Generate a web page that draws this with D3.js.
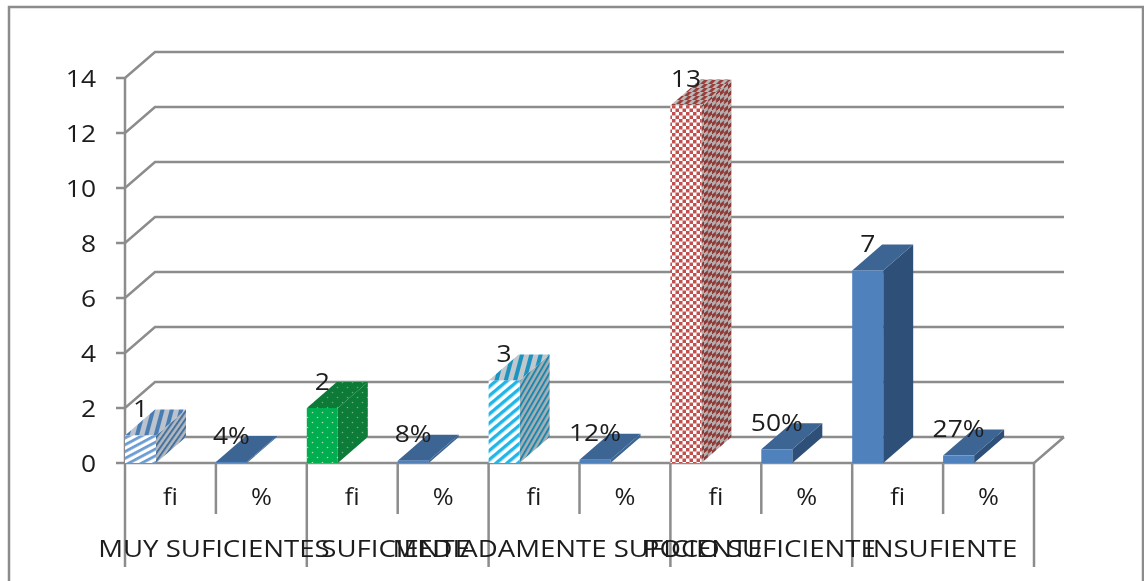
<!DOCTYPE html>
<html>
<head>
<meta charset="utf-8">
<script src="https://cdn.jsdelivr.net/npm/d3@7"></script>
<style>
  html, body { margin: 0; padding: 0; background: #fff; overflow: hidden; }
  text { font-family: "Open Sans", sans-serif; fill: #1c1c1c; }
</style>
</head>
<body>
<script>
const groups = ["MUY SUFICIENTES", "SUFICIENTE", "MEDIADAMENTE SUFICIENTE", "POCO SUFICIENTE", "INSUFIENTE"];
const subLabels = ["fi", "%"];
const fiValues = [1, 2, 3, 13, 7];
const pctValues = [0.04, 0.08, 0.12, 0.5, 0.27];
const pctLabels = ["4%", "8%", "12%", "50%", "27%"];
const yTicks = [0, 2, 4, 6, 8, 10, 12, 14];

const w = 1144;
const h = 581;
const left = 125;
const right = 1034;
const base = 463;
const top14 = 78;
const depthX = 30;
const depthY = 26;
const barW = 31;
const grey = "#8c8c8c";

const bars = [];
groups.forEach((g, i) => {
  bars.push({ key: i * 2, value: fiValues[i], label: String(fiValues[i]), style: ["hatchBlue", "dots", "hatchCyan", "check", "plain"][i] });
  bars.push({ key: i * 2 + 1, value: pctValues[i], label: pctLabels[i], style: "plain" });
});

const xScale = d3.scaleBand().domain(d3.range(10)).range([left, right]);
const groupScale = d3.scaleBand().domain(d3.range(5)).range([left, right]);
const yScale = d3.scaleLinear().domain([0, 14]).range([base, top14]);

const svg = d3.select("body").append("svg")
  .attr("width", w)
  .attr("height", h)
  .style("display", "block");

const defs = svg.append("defs");

// slight softening, the reference is an upscaled bitmap
defs.append("filter").attr("id", "soft")
  .append("feGaussianBlur").attr("stdDeviation", 0.6);

function stripes(id, bg, fg, size, sw, angle) {
  const p = defs.append("pattern")
    .attr("id", id)
    .attr("patternUnits", "userSpaceOnUse")
    .attr("width", size)
    .attr("height", size)
    .attr("patternTransform", `rotate(${angle})`);
  p.append("rect").attr("width", size).attr("height", size).attr("fill", bg);
  p.append("rect").attr("width", sw).attr("height", size).attr("fill", fg);
}

stripes("hatchBlue-front", "#fff", "#6a9bd3", 6, 2.8, 62);
stripes("hatchBlue-top", "#bcc3cc", "#4a7eb5", 9, 4, 15);
stripes("hatchBlue-side", "#b4b9bf", "#44719f", 4.5, 2, 35);
stripes("hatchCyan-front", "#fff", "#22b5e8", 7, 3.4, 50);
stripes("hatchCyan-top", "#c0c8cc", "#1d93c0", 9, 4, 15);
stripes("hatchCyan-side", "#a9b0b4", "#1d87ae", 4.5, 2, 30);

function dots(id, bg, fg) {
  const p = defs.append("pattern")
    .attr("id", id)
    .attr("patternUnits", "userSpaceOnUse")
    .attr("width", 10)
    .attr("height", 10);
  p.append("rect").attr("width", 10).attr("height", 10).attr("fill", bg);
  p.append("circle").attr("cx", 2.5).attr("cy", 2.5).attr("r", 0.8).attr("fill", fg);
  p.append("circle").attr("cx", 7.5).attr("cy", 7.5).attr("r", 0.8).attr("fill", fg);
}

dots("dots-front", "#00ad50", "#a5e0bc");
dots("dots-top", "#0a7a39", "#5fae80");
dots("dots-side", "#087c38", "#6db68b");

function check(id, bg, fg, size, transform) {
  const p = defs.append("pattern")
    .attr("id", id)
    .attr("patternUnits", "userSpaceOnUse")
    .attr("width", size * 2)
    .attr("height", size * 2);
  if (transform) p.attr("patternTransform", transform);
  p.append("rect").attr("width", size * 2).attr("height", size * 2).attr("fill", bg);
  p.append("rect").attr("width", size).attr("height", size).attr("fill", fg);
  p.append("rect").attr("x", size).attr("y", size).attr("width", size).attr("height", size).attr("fill", fg);
}

check("check-front", "#fff", "#c0504d", 3.5);
check("check-top", "#bdb5b4", "#96403e", 4, "skewX(-45)");
check("check-side", "#b5aeae", "#8e3a38", 4, "skewY(-40)");

const faces = {
  plain: { front: "#4f81bd", top: "#3c6594", side: "#2f5078" }
};
const fill = (d, face) => d.style === "plain" ? faces.plain[face] : `url(#${d.style}-${face})`;

const chart = svg.append("g").attr("filter", "url(#soft)");

// outer frame
chart.append("rect")
  .attr("x", 9).attr("y", 7)
  .attr("width", 1134).attr("height", 590)
  .attr("fill", "#fff")
  .attr("stroke", grey)
  .attr("stroke-width", 2.5);

// gridlines on the walls
chart.selectAll(".grid")
  .data(yTicks)
  .enter()
  .append("path")
  .attr("class", "grid")
  .attr("fill", "none")
  .attr("stroke", grey)
  .attr("stroke-width", 2.5)
  .attr("d", d => {
    const y = yScale(d);
    return d3.line()([[left - 9, y], [left, y], [left + depthX, y - depthY], [right + depthX, y - depthY]]);
  });

// floor edge on the right, front edge
chart.append("path")
  .attr("fill", "none")
  .attr("stroke", grey)
  .attr("stroke-width", 2.5)
  .attr("d", d3.line()([[left, base], [right, base], [right + depthX, base - depthY]]));

// y axis and category separators
chart.append("line")
  .attr("x1", left).attr("x2", left)
  .attr("y1", top14).attr("y2", base)
  .attr("stroke", grey).attr("stroke-width", 2.5);

chart.selectAll(".groupSep")
  .data(d3.range(6))
  .enter()
  .append("line")
  .attr("class", "groupSep")
  .attr("x1", d => left + d * groupScale.step())
  .attr("x2", d => left + d * groupScale.step())
  .attr("y1", base).attr("y2", 567)
  .attr("stroke", grey).attr("stroke-width", 2.5);

chart.selectAll(".subSep")
  .data(d3.range(5))
  .enter()
  .append("line")
  .attr("class", "subSep")
  .attr("x1", d => xScale(d * 2 + 1))
  .attr("x2", d => xScale(d * 2 + 1))
  .attr("y1", base).attr("y2", 514)
  .attr("stroke", grey).attr("stroke-width", 2.5);

// 3d bars
const bar = chart.selectAll(".bar")
  .data(bars)
  .enter()
  .append("g")
  .attr("class", "bar");

// very short bars show no darker side in the original
bar.append("path")
  .attr("fill", d => d.value < 0.2 ? faces.plain.top : fill(d, "side"))
  .attr("d", d => {
    const x = xScale(d.key) + barW;
    return d3.line()([[x, yScale(d.value)], [x + depthX, yScale(d.value) - depthY], [x + depthX, base - depthY], [x, base]]) + "Z";
  });

bar.append("path")
  .attr("fill", d => fill(d, "top"))
  .attr("d", d => {
    const x = xScale(d.key);
    const y = yScale(d.value);
    return d3.line()([[x, y], [x + depthX, y - depthY], [x + barW + depthX, y - depthY], [x + barW, y]]) + "Z";
  });

bar.append("rect")
  .attr("x", d => xScale(d.key))
  .attr("y", d => yScale(d.value))
  .attr("width", barW)
  .attr("height", d => base - yScale(d.value))
  .attr("fill", d => fill(d, "front"));

const textLayer = svg.append("g").attr("filter", "url(#soft)");

// the original text is stretched sideways, so scale it the same way
const stretched = (sel, x, y, sx) => sel
  .attr("transform", (d, i) => `translate(${x(d, i)},${y(d, i)}) scale(${sx},1)`)
  .attr("dy", "0.36em");

// y tick labels
textLayer.selectAll(".yLabel")
  .data(yTicks)
  .enter()
  .append("text")
  .attr("class", "yLabel")
  .attr("text-anchor", "end")
  .attr("font-size", 24)
  .text(d => d)
  .call(stretched, () => 96, d => yScale(d), 1.1);

// data labels
textLayer.selectAll(".dataLabel")
  .data(bars)
  .enter()
  .append("text")
  .attr("class", "dataLabel")
  .attr("text-anchor", "middle")
  .attr("font-size", 24)
  .text(d => d.label)
  .call(stretched, d => xScale(d.key) + barW / 2, d => yScale(d.value) - 27, 1.1);

// fi / % row
textLayer.selectAll(".subLabel")
  .data(d3.range(10))
  .enter()
  .append("text")
  .attr("class", "subLabel")
  .attr("text-anchor", "middle")
  .attr("font-size", 23)
  .text(d => subLabels[d % 2])
  .call(stretched, d => xScale(d) + xScale.bandwidth() / 2, () => 497, 1.1);

// group names, they overlap in the original too
textLayer.selectAll(".groupLabel")
  .data(groups)
  .enter()
  .append("text")
  .attr("class", "groupLabel")
  .attr("text-anchor", "middle")
  .attr("font-size", 23)
  .text(d => d)
  .call(stretched, (d, i) => groupScale(i) + groupScale.bandwidth() / 2 - 2, () => 549, 1.2);
</script>
</body>
</html>
